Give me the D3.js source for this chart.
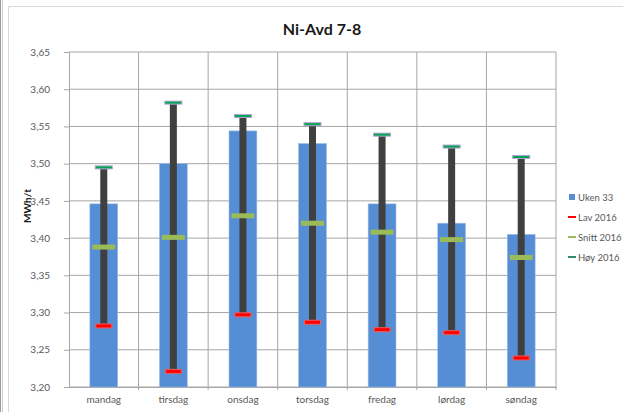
<!DOCTYPE html>
<html>
<head>
<meta charset="utf-8">
<script src="https://cdn.jsdelivr.net/npm/d3@7"></script>
<style>
  html, body { margin: 0; padding: 0; background: #fff; }
  svg { display: block; font-family: Lato, "Open Sans", sans-serif; }
</style>
</head>
<body>
<svg id="chart" width="623" height="412"></svg>
<script>
// Ukedager
const days = ["mandag", "tirsdag", "onsdag", "torsdag", "fredag", "lørdag", "søndag"];
// Forbruk denne uken (MWh/t)
const uke33 = [3.446, 3.500, 3.544, 3.527, 3.446, 3.420, 3.405];
// Laveste, gjennomsnittlig og høyeste verdi i 2016
const lav2016 = [3.282, 3.221, 3.297, 3.287, 3.277, 3.273, 3.239];
const snitt2016 = [3.388, 3.401, 3.430, 3.420, 3.408, 3.398, 3.374];
const hoy2016 = [3.495, 3.582, 3.564, 3.553, 3.539, 3.523, 3.509];
// Verdiakse
const yTicks = [3.20, 3.25, 3.30, 3.35, 3.40, 3.45, 3.50, 3.55, 3.60, 3.65];
const legendLabels = ["Uken 33", "Lav 2016", "Snitt 2016", "Høy 2016"];

const svg = d3.select("#chart");
const plot = { left: 69, right: 556, top: 52, bottom: 387 };

const x = d3.scaleBand().domain(days).range([plot.left, plot.right]).padding(0);
const y = d3.scaleLinear().domain([3.20, 3.65]).range([plot.bottom, plot.top]);
const barW = x.bandwidth() / 2.5;
const cx = d => x(d) + x.bandwidth() / 2;
const fmt = v => d3.format(".2f")(v).replace(".", ",");

// Ytre ramme
svg.append("line").attr("x1", 0.5).attr("x2", 0.5).attr("y1", 0).attr("y2", 412)
  .attr("stroke", "#9a9a9a");
svg.append("line").attr("x1", 2.5).attr("x2", 2.5).attr("y1", 0).attr("y2", 412)
  .attr("stroke", "#c8c8c8");
svg.append("path").attr("d", "M8.5,412V6.5H623")
  .attr("fill", "none").attr("stroke", "#d9d9d9");

// Tittel
svg.append("text").attr("x", 322).attr("y", 35).attr("text-anchor", "middle")
  .attr("font-size", 16).attr("font-weight", "bold").attr("fill", "#1a1a1a")
  .text("Ni-Avd 7-8");

// Horisontale rutenettlinjer
svg.append("g").selectAll("line").data(yTicks).join("line")
  .attr("x1", plot.left).attr("x2", plot.right)
  .attr("y1", d => y(d)).attr("y2", d => y(d))
  .attr("stroke", "#a6a6a6").attr("stroke-width", 1);

// Vertikale skillelinjer mellom kategoriene
const bounds = days.map(d => x(d)).concat([plot.right]);
svg.append("g").selectAll("line").data(bounds.slice(1)).join("line")
  .attr("x1", d => d).attr("x2", d => d)
  .attr("y1", plot.top).attr("y2", plot.bottom + 3)
  .attr("stroke", "#a6a6a6");

// Y-akse
const yAxis = svg.append("g").attr("transform", `translate(${plot.left},0)`)
  .call(d3.axisLeft(y).tickValues(yTicks).tickFormat(fmt).tickSize(5).tickPadding(14));
yAxis.select(".domain").attr("stroke", "#a6a6a6");
yAxis.selectAll(".tick line").attr("stroke", "#a6a6a6");
yAxis.selectAll("text").attr("font-size", 10).attr("fill", "#595959")
  .attr("font-family", "Lato, sans-serif");

// X-akse
const xAxis = svg.append("g").attr("transform", `translate(0,${plot.bottom})`)
  .call(d3.axisBottom(x).tickSize(0).tickPadding(9));
xAxis.select(".domain").attr("stroke", "#a6a6a6");
xAxis.selectAll("text").attr("font-size", 10).attr("fill", "#595959")
  .attr("font-family", "Lato, sans-serif");

// Aksetittel
svg.append("text")
  .attr("transform", "translate(31,206) rotate(-90)")
  .attr("text-anchor", "middle").attr("font-size", 10).attr("font-weight", "bold")
  .attr("fill", "#1a1a1a").text("MWh/t");

// Søyler for uke 33
svg.append("g").selectAll("rect").data(days).join("rect")
  .attr("x", d => cx(d) - barW / 2)
  .attr("width", barW)
  .attr("y", (d, i) => y(uke33[i]))
  .attr("height", (d, i) => y(3.20) - y(uke33[i]))
  .attr("fill", "#558ed5")
  .attr("stroke", "#9dbbe6").attr("stroke-width", 0.6);

// Høy-lav-linjer
svg.append("g").selectAll("line").data(days).join("line")
  .attr("x1", cx).attr("x2", cx)
  .attr("y1", (d, i) => y(lav2016[i]))
  .attr("y2", (d, i) => y(hoy2016[i]))
  .attr("stroke", "#404040").attr("stroke-width", 7);

// Markører
function dashes(values, w, h, fill, stroke) {
  svg.append("g").selectAll("rect").data(days).join("rect")
    .attr("x", d => cx(d) - w / 2)
    .attr("width", w)
    .attr("y", (d, i) => y(values[i]) - h / 2)
    .attr("height", h)
    .attr("fill", fill)
    .attr("stroke", stroke).attr("stroke-width", stroke === "none" ? 0 : 1);
}
dashes(lav2016, 16, 4, "#ff0000", "#e86060");
dashes(snitt2016, 23, 5, "#9bbb59", "none");
dashes(hoy2016, 17, 3, "#00a651", "#b3a2d3");

// Forklaring
const legendColors = ["#558ed5", "#ff0000", "#9bbb59", "#2e8b6e"];
const lg = svg.append("g").attr("transform", "translate(568,197)");
legendLabels.forEach((label, i) => {
  const gy = i * 20;
  if (i === 0) {
    lg.append("rect").attr("x", 1).attr("y", gy - 3).attr("width", 6).attr("height", 6)
      .attr("fill", legendColors[i]);
  } else {
    lg.append("rect").attr("x", 0).attr("y", gy - 1).attr("width", 8).attr("height", 2)
      .attr("fill", legendColors[i]);
  }
  lg.append("text").attr("x", 10).attr("y", gy + 3.5)
    .attr("font-size", 9.5).attr("fill", "#595959").text(label);
});
</script>
</body>
</html>
